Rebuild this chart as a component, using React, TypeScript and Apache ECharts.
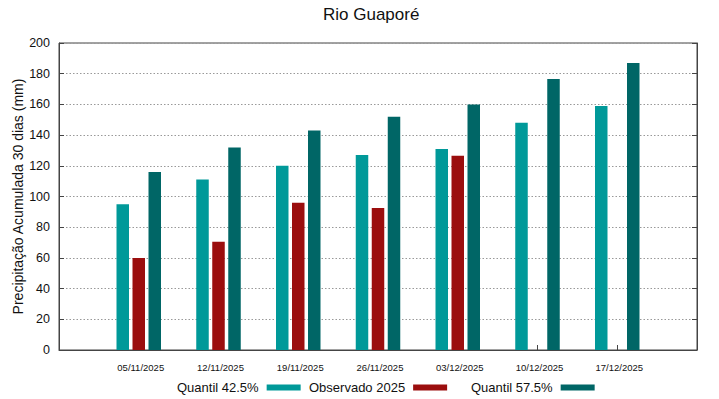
import React, { useEffect, useRef } from "react";
import * as echarts from "echarts";

const categories = ["05/11/2025", "12/11/2025", "19/11/2025", "26/11/2025", "03/12/2025", "10/12/2025", "17/12/2025"];
const quantil425 = [95, 111, 120, 127, 131, 148, 159];
const observado2025: (number | null)[] = [60, 70.5, 96, 92.5, 126.5, null, null];
const quantil575 = [116, 132, 143, 152, 160, 176.5, 187];
const yTicks = { min: 0, max: 200, interval: 20 };

const FONT = "'Liberation Sans', Arial, sans-serif";
const C1 = "#009999";
const C2 = "#9b0e0e";
const C3 = "#006666";

export default function App() {
  const ref = useRef<HTMLDivElement>(null);
  useEffect(() => {
    if (!ref.current) return;
    const chart = echarts.init(ref.current, undefined, { renderer: "svg" });
    const pad = <T,>(a: T[]) => [null, ...a, null];
    const cats = ["", ...categories, ""];
    const legendCommon = {
      top: 381,
      padding: 0,
      orient: "horizontal" as const,
      align: "right" as const,
      icon: "rect",
      itemWidth: 34,
      itemHeight: 6,
      textStyle: { fontFamily: FONT, fontSize: 13, color: "#111", padding: [0, 3, 0, 0] },
      selectedMode: false,
    };
    chart.setOption({
      animation: false,
      textStyle: { fontFamily: FONT },
      title: {
        text: "Rio Guaporé",
        left: 323,
        top: 6,
        padding: 0,
        textStyle: { fontFamily: FONT, fontSize: 17, fontWeight: "normal", color: "#111" },
      },
      legend: [
        { ...legendCommon, left: 177, data: ["Quantil 42.5%"] },
        { ...legendCommon, left: 309, data: ["Observado 2025"] },
        { ...legendCommon, left: 471, data: ["Quantil 57.5%"] },
      ],
      grid: {
        left: 59,
        right: 22,
        top: 43,
        bottom: 49,
        outerBoundsMode: "none",
        containLabel: false,
        show: true,
        borderColor: "#444",
        borderWidth: 1,
        backgroundColor: "transparent",
      },
      xAxis: {
        type: "category",
        data: cats,
        boundaryGap: false,
        axisLine: { show: true, lineStyle: { color: "#444" } },
        axisTick: { show: true, inside: true, length: 5, lineStyle: { color: "#444" } },
        axisLabel: { fontSize: 9.5, color: "#111", margin: 12, interval: 0, padding: [0, 0, 0, 4] },
        splitLine: { show: false },
      },
      yAxis: [
        {
          type: "value",
          ...yTicks,
          name: "Precipitação Acumulada 30 dias (mm)",
          nameLocation: "middle",
          nameGap: 34,
          nameMoveOverlap: false,
          nameTextStyle: { fontFamily: FONT, fontSize: 14, color: "#111" },
          axisLine: { show: true, lineStyle: { color: "#444" } },
          axisTick: { show: true, inside: true, length: 5, lineStyle: { color: "#444" } },
          axisLabel: { fontSize: 12.5, color: "#111", margin: 9 },
          splitLine: { show: true, lineStyle: { color: "#999", type: [1.5, 2], width: 1 } },
        },
        {
          type: "value",
          ...yTicks,
          position: "right",
          axisLine: { show: true, lineStyle: { color: "#444" } },
          axisTick: { show: true, inside: true, length: 5, lineStyle: { color: "#444" } },
          axisLabel: { show: false },
          splitLine: { show: false },
        },
      ],
      series: [
        { name: "Quantil 42.5%", type: "bar", data: pad(quantil425), itemStyle: { color: C1 }, barWidth: 12.5, barGap: "28%" },
        { name: "Observado 2025", type: "bar", data: pad(observado2025), itemStyle: { color: C2 }, barWidth: 12.5, barGap: "28%" },
        { name: "Quantil 57.5%", type: "bar", data: pad(quantil575), itemStyle: { color: C3 }, barWidth: 12.5, barGap: "28%" },
      ],
    });
    return () => chart.dispose();
  }, []);
  return <div ref={ref} style={{ width: 719, height: 399, position: "absolute", left: 0, top: 0 }} />;
}
